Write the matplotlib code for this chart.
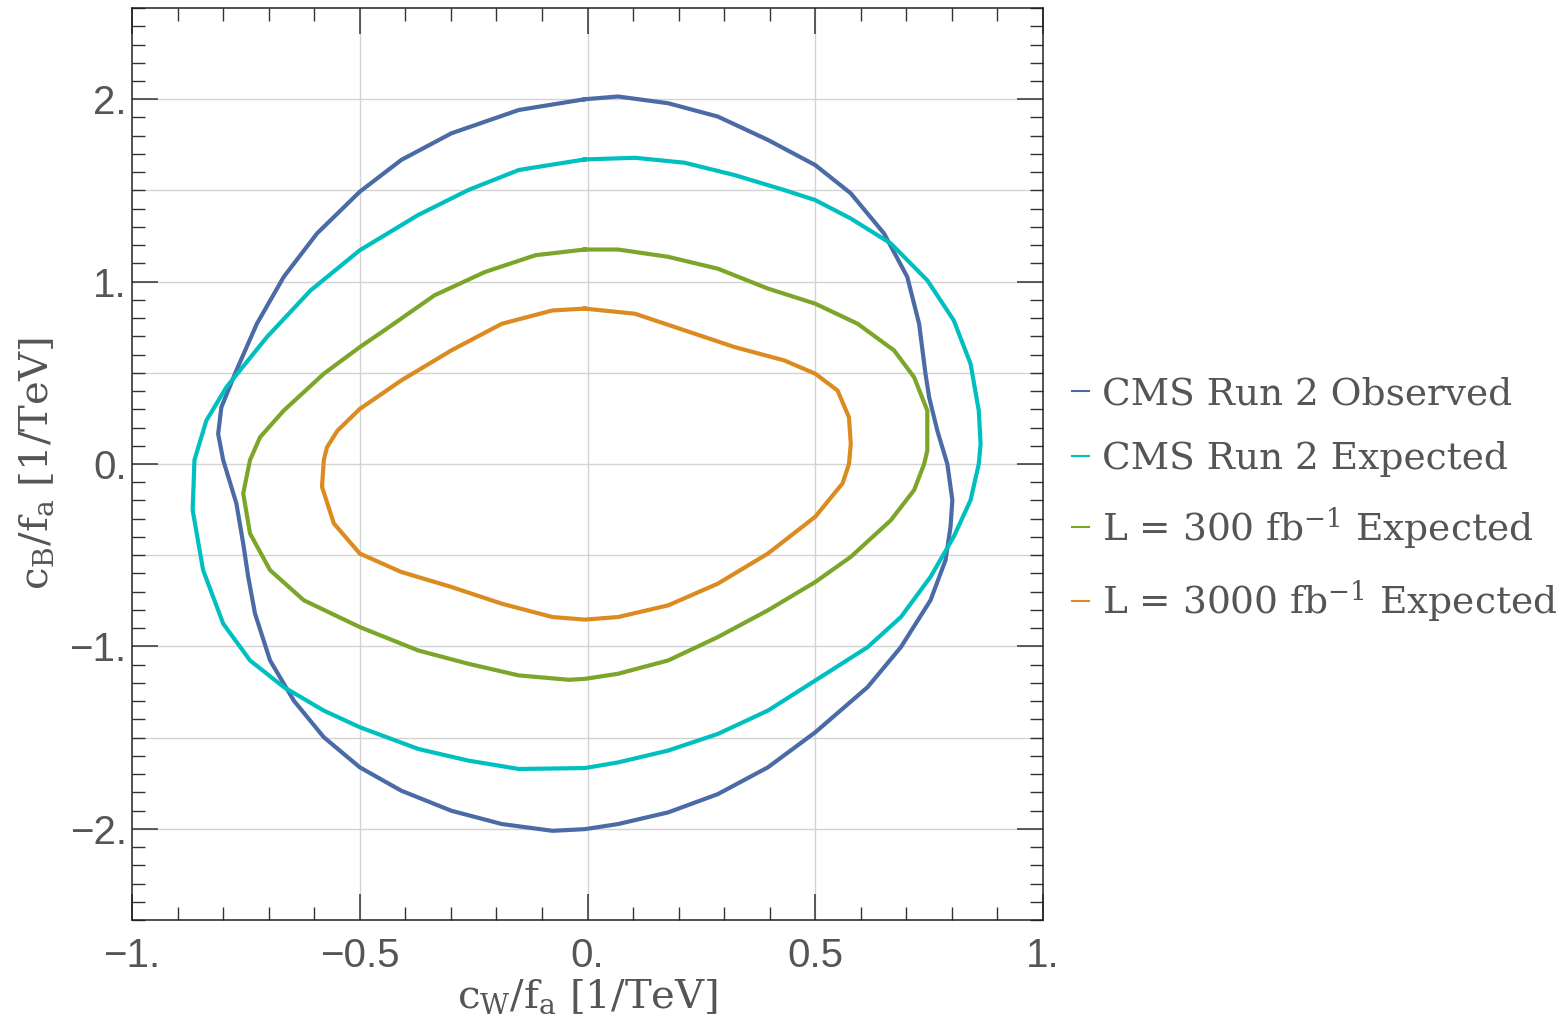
import matplotlib
matplotlib.use("Agg")
import matplotlib.pyplot as plt
from matplotlib.ticker import MultipleLocator, FixedLocator

plt.rcParams['mathtext.fontset'] = 'custom'
plt.rcParams['mathtext.rm'] = 'DejaVu Serif'
plt.rcParams['mathtext.it'] = 'DejaVu Serif'

# contours (cW/fa, cB/fa), clockwise from the top
obs_x = [-0.006, 0.067, 0.177, 0.286, 0.396, 0.5, 0.578, 0.651, 0.702, 0.728, 0.742, 0.75, 0.768, 0.79,
         0.801, 0.797, 0.786, 0.753, 0.688, 0.615, 0.5, 0.396, 0.286, 0.177, 0.067, -0.006,
         -0.077, -0.188, -0.299, -0.409, -0.5, -0.579, -0.645, -0.697, -0.73, -0.745, -0.756, -0.771, -0.8,
         -0.811, -0.804, -0.771, -0.726, -0.667, -0.594, -0.5, -0.409, -0.299, -0.151, -0.006]
obs_y = [2.0, 2.015, 1.978, 1.905, 1.777, 1.639, 1.484, 1.264, 1.026, 0.769, 0.495, 0.366, 0.183, 0.0,
         -0.198, -0.344, -0.527, -0.747, -1.004, -1.223, -1.471, -1.663, -1.81, -1.91, -1.974, -2.002,
         -2.011, -1.974, -1.901, -1.791, -1.663, -1.498, -1.297, -1.077, -0.821, -0.619, -0.436, -0.216, 0.022,
         0.165, 0.311, 0.513, 0.769, 1.026, 1.264, 1.493, 1.667, 1.813, 1.941, 2.0]

exp_x = [-0.006, 0.104, 0.213, 0.323, 0.432, 0.5, 0.578, 0.666, 0.746, 0.804, 0.841, 0.859, 0.863, 0.859,
         0.841, 0.804, 0.753, 0.688, 0.615, 0.5, 0.396, 0.286, 0.177, 0.067, -0.006,
         -0.151, -0.262, -0.372, -0.5, -0.579, -0.667, -0.741, -0.8, -0.844, -0.867, -0.863,
         -0.837, -0.793, -0.704, -0.608, -0.5, -0.372, -0.262, -0.151, -0.006]
exp_y = [1.67, 1.679, 1.652, 1.584, 1.502, 1.447, 1.346, 1.209, 1.007, 0.788, 0.549, 0.293, 0.11, 0.0,
         -0.198, -0.399, -0.619, -0.839, -1.004, -1.187, -1.352, -1.48, -1.571, -1.636, -1.667,
         -1.672, -1.626, -1.562, -1.443, -1.352, -1.223, -1.077, -0.875, -0.582, -0.253, 0.022,
         0.238, 0.421, 0.696, 0.952, 1.172, 1.365, 1.502, 1.612, 1.67]

l300_x = [-0.006, 0.067, 0.177, 0.286, 0.396, 0.5, 0.593, 0.673, 0.717, 0.746, 0.746, 0.739,
          0.717, 0.666, 0.578, 0.5, 0.396, 0.286, 0.177, 0.067, -0.006,
          -0.041, -0.151, -0.262, -0.372, -0.5, -0.623, -0.697, -0.741, -0.756, -0.741,
          -0.719, -0.667, -0.579, -0.5, -0.446, -0.336, -0.225, -0.114, -0.006]
l300_y = [1.176, 1.176, 1.136, 1.071, 0.962, 0.879, 0.769, 0.623, 0.476, 0.293, 0.073, 0.0,
          -0.143, -0.308, -0.509, -0.647, -0.802, -0.949, -1.077, -1.15, -1.178,
          -1.183, -1.159, -1.095, -1.022, -0.894, -0.747, -0.582, -0.381, -0.161, 0.022,
          0.147, 0.293, 0.495, 0.641, 0.733, 0.925, 1.053, 1.145, 1.176]

l3000_x = [-0.006, 0.104, 0.213, 0.323, 0.432, 0.5, 0.549, 0.574, 0.578, 0.574,
           0.56, 0.5, 0.396, 0.286, 0.177, 0.067, -0.006,
           -0.077, -0.188, -0.299, -0.409, -0.5, -0.557, -0.583, -0.579,
           -0.572, -0.549, -0.5, -0.409, -0.299, -0.188, -0.077, -0.006]
l3000_y = [0.852, 0.824, 0.733, 0.641, 0.568, 0.495, 0.403, 0.256, 0.11, 0.0,
           -0.106, -0.289, -0.491, -0.656, -0.775, -0.839, -0.853,
           -0.839, -0.766, -0.674, -0.592, -0.491, -0.326, -0.125, 0.022,
           0.092, 0.183, 0.302, 0.458, 0.623, 0.769, 0.842, 0.852]

labels = ['CMS Run 2 Observed', 'CMS Run 2 Expected',
          r'L = 300 fb$^{-1}$ Expected', r'L = 3000 fb$^{-1}$ Expected']
colors = ['#4a6ba5', '#00bfbf', '#7ca52a', '#db8b20']

fig = plt.figure(figsize=(15.63, 10.30), dpi=100)
ax = fig.add_axes([0.0845, 0.1068, 0.5828, 0.8854])

curves = [(obs_x, obs_y), (exp_x, exp_y), (l300_x, l300_y), (l3000_x, l3000_y)]
for (cx, cy), c, lab in zip(curves, colors, labels):
    ax.plot(cx, cy, color=c, lw=3, label=lab, solid_joinstyle='round')

ax.set_xlim(-1, 1)
ax.set_ylim(-2.5, 2.5)

ax.xaxis.set_major_locator(FixedLocator([-1, -0.5, 0, 0.5, 1]))
ax.yaxis.set_major_locator(FixedLocator([-2, -1, 0, 1, 2]))
ax.xaxis.set_minor_locator(MultipleLocator(0.1))
ax.yaxis.set_minor_locator(MultipleLocator(0.1))
ax.set_xticklabels(['\u22121.', '\u22120.5', '0.', '0.5', '1.'])
ax.set_yticklabels(['\u22122.', '\u22121.', '0.', '1.', '2.'])
for lab in ax.get_xticklabels() + ax.get_yticklabels():
    lab.set_fontfamily('Liberation Sans')
    lab.set_fontsize(29)
    lab.set_color('#555555')

ax.tick_params(which='both', direction='in', top=True, right=True, color='#333333')
ax.tick_params(which='major', length=19, width=1.1)
ax.tick_params(which='minor', length=9.5, width=1.0)
ax.tick_params(axis='x', which='major', pad=12)
ax.tick_params(axis='y', which='major', pad=4)

# grid every 0.5 in both directions
for gx in [-0.5, 0, 0.5]:
    ax.axvline(gx, color='#d3d3d3', lw=1, zorder=0)
for gy in [-2, -1.5, -1, -0.5, 0, 0.5, 1, 1.5, 2]:
    ax.axhline(gy, color='#d3d3d3', lw=1, zorder=0)

for s in ax.spines.values():
    s.set_color('#222222')
    s.set_linewidth(1.1)

ax.set_xlabel(r'$\mathrm{c_W/f_a}$ [1/TeV]', fontfamily='DejaVu Serif',
              fontsize=29, color='#555555', labelpad=2)
ax.set_ylabel(r'$\mathrm{c_B/f_a}$ [1/TeV]', fontfamily='DejaVu Serif',
              fontsize=29, color='#555555', labelpad=10)

leg = ax.legend(loc='center left', bbox_to_anchor=(1.032, 0.46), frameon=False,
                borderpad=0, borderaxespad=0,
                handlelength=0.45, handletextpad=0.35, labelspacing=0.75,
                prop={'family': 'DejaVu Serif', 'size': 27})
for t in leg.get_texts():
    t.set_color('#555555')
for h in leg.get_lines():
    h.set_linewidth(1.5)

fig.savefig('out.png', dpi=100)
